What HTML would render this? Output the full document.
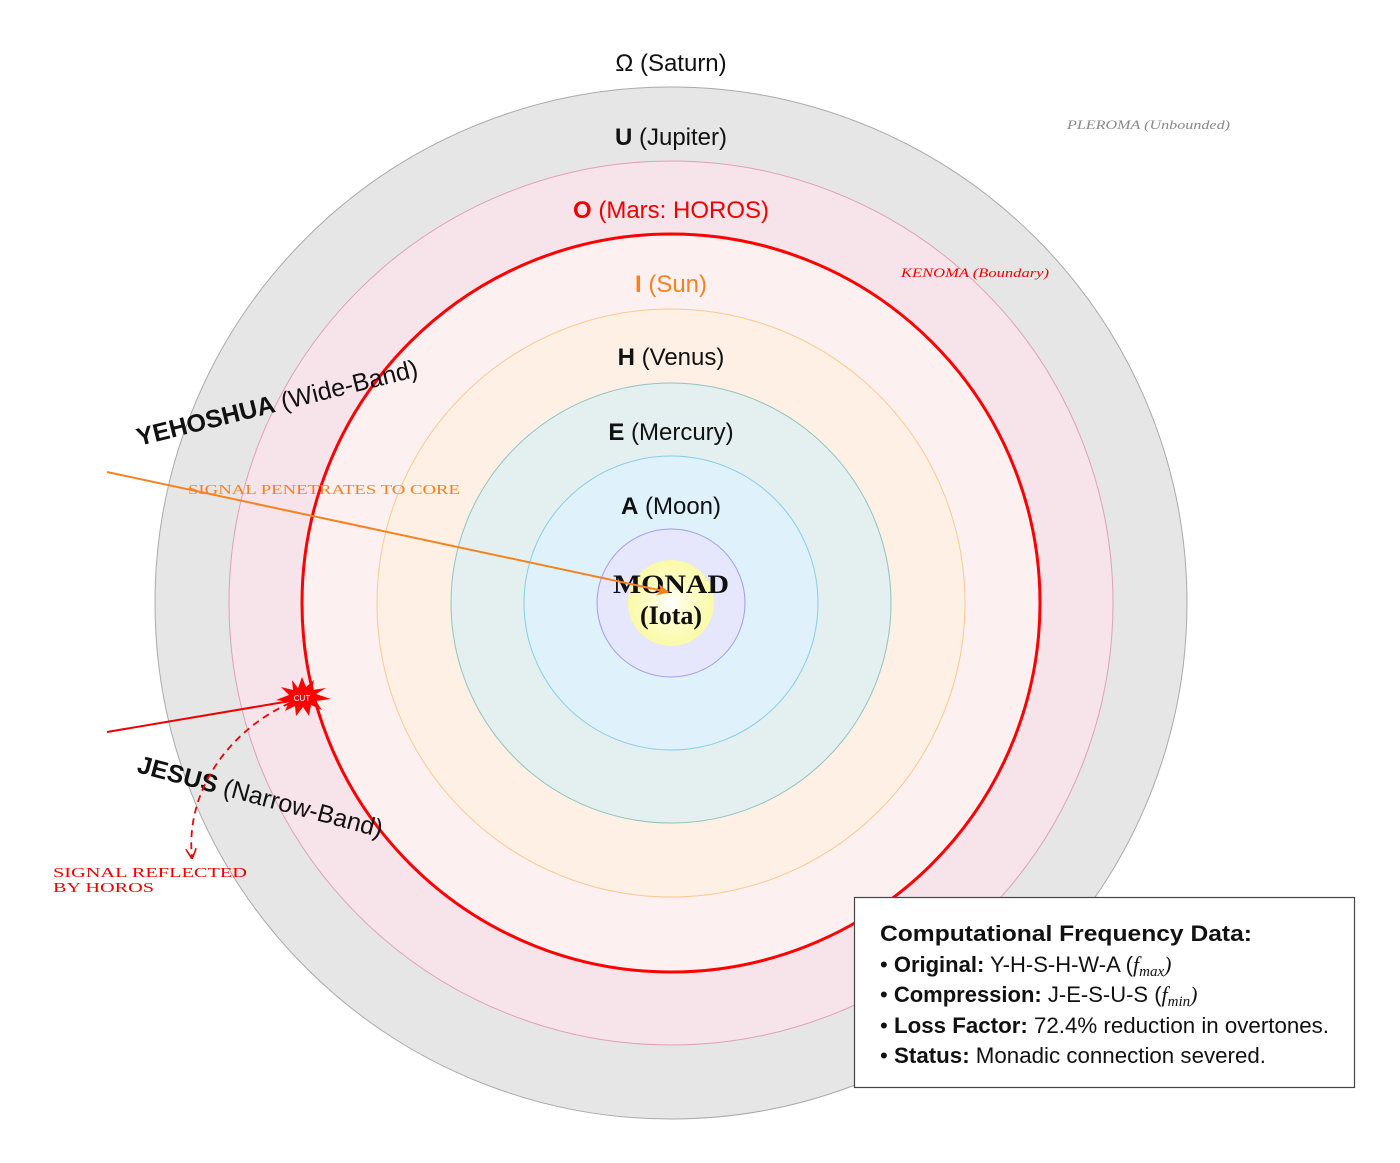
<!DOCTYPE html>
<html><head><meta charset="utf-8"><style>
html,body{margin:0;padding:0;background:#fff;}
svg{display:block;}
</style></head><body>
<svg width="1400" height="1163" viewBox="0 0 1400 1163" xmlns="http://www.w3.org/2000/svg" font-family="Liberation Sans, DejaVu Sans, sans-serif">
<defs>
<radialGradient id="mg" cx="0.5" cy="0.5" r="0.5">
<stop offset="0" stop-color="#ffffff"/><stop offset="0.5" stop-color="#fdfdc8"/><stop offset="1" stop-color="#fafaa8"/>
</radialGradient>
<marker id="ao" viewBox="0 0 10 10" refX="9" refY="5" markerWidth="6" markerHeight="6" orient="auto"><path d="M0,0 L10,5 L0,10 L3,5z" fill="#f58220"/></marker>
<marker id="ar" viewBox="0 0 10 10" refX="9" refY="5" markerWidth="6" markerHeight="6" orient="auto"><path d="M0,0 L10,5 L0,10" fill="none" stroke="#e00" stroke-width="1.5"/></marker>
</defs>
<circle cx="671" cy="603" r="516" fill="#e6e6e6" stroke="#aaa" stroke-width="1"/>
<circle cx="671" cy="603" r="442" fill="#f7e4ea" stroke="#e0a0b4" stroke-width="1"/>
<circle cx="671" cy="603" r="369" fill="#fdf0f1" stroke="#f00" stroke-width="3"/>
<circle cx="671" cy="603" r="294" fill="#fef0e4" stroke="#fcc890" stroke-width="1"/>
<circle cx="671" cy="603" r="220" fill="#e4f0ef" stroke="#90c4c0" stroke-width="1"/>
<circle cx="671" cy="603" r="147" fill="#dff1fa" stroke="#88cce8" stroke-width="1"/>
<circle cx="671" cy="603" r="74" fill="#e6e6fc" stroke="#9e9ef0" stroke-width="1"/>
<circle cx="671" cy="603" r="43" fill="url(#mg)"/>

<g font-size="24" text-anchor="middle" fill="#111">
<text x="671" y="71">Ω (Saturn)</text>
<text x="671" y="145"><tspan font-weight="bold">U</tspan> (Jupiter)</text>
<text x="671" y="218" fill="#e00"><tspan font-weight="bold">O</tspan> (Mars: HOROS)</text>
<text x="671" y="292" fill="#f58220"><tspan font-weight="bold">I</tspan> (Sun)</text>
<text x="671" y="365"><tspan font-weight="bold">H</tspan> (Venus)</text>
<text x="671" y="440"><tspan font-weight="bold">E</tspan> (Mercury)</text>
<text x="671" y="514"><tspan font-weight="bold">A</tspan> (Moon)</text>
</g>
<g font-family="Liberation Serif, serif" font-weight="bold" font-size="26" text-anchor="middle" fill="#111">
<text x="671" y="593" textLength="116" lengthAdjust="spacingAndGlyphs">MONAD</text>
<text x="671" y="624">(Iota)</text>
</g>
<text x="1067" y="129" font-family="Liberation Serif, serif" font-style="italic" font-size="13" fill="#888" textLength="163" lengthAdjust="spacingAndGlyphs">PLEROMA (Unbounded)</text>
<text x="901" y="277" font-family="Liberation Serif, serif" font-style="italic" font-size="13" fill="#e00" textLength="148" lengthAdjust="spacingAndGlyphs">KENOMA (Boundary)</text>

<text transform="translate(139,446) rotate(-14)" font-size="25" fill="#111"><tspan font-weight="bold">YEHOSHUA</tspan> (Wide-Band)</text>
<text transform="translate(136,772) rotate(15)" font-size="25" fill="#111"><tspan font-weight="bold">JESUS</tspan> (Narrow-Band)</text>

<text x="188" y="494" font-family="Liberation Serif, serif" font-size="14" fill="#f58220" textLength="272" lengthAdjust="spacingAndGlyphs">SIGNAL PENETRATES TO CORE</text>
<line x1="107" y1="472" x2="668" y2="592" stroke="#f58220" stroke-width="2" marker-end="url(#ao)"/>

<line x1="107" y1="732" x2="296" y2="700" stroke="#e00" stroke-width="2"/>
<path d="M290,703 C230,730 185,790 192,858" fill="none" stroke="#e00" stroke-width="1.8" stroke-dasharray="7,5" marker-end="url(#ar)"/>
<polygon fill="#f00" points="302,677 306,687 314,680 312,690 326,688 316,694 331,699 316,701 322,710 311,705 309,716 303,707 296,716 295,706 285,711 289,702 276,700 289,695 281,687 293,690 292,680 298,688"/>
<text x="302" y="701" font-size="8" fill="#fff" text-anchor="middle">CUT</text>
<g font-family="Liberation Serif, serif" font-size="14" fill="#e00">
<text x="53" y="877" textLength="194" lengthAdjust="spacingAndGlyphs">SIGNAL REFLECTED</text>
<text x="53" y="892" textLength="101" lengthAdjust="spacingAndGlyphs">BY HOROS</text>
</g>

<rect x="854.5" y="897.5" width="500" height="190" fill="#fff" stroke="#444" stroke-width="1.2"/>
<g font-size="22" fill="#111">
<text x="880" y="941" font-weight="bold" textLength="372" lengthAdjust="spacingAndGlyphs">Computational Frequency Data:</text>
<text x="880" y="972">• <tspan font-weight="bold">Original:</tspan> Y-H-S-H-W-A (<tspan font-family="Liberation Serif, serif" font-style="italic">f<tspan font-size="15" dy="4">max</tspan><tspan dy="-4">)</tspan></tspan></text>
<text x="880" y="1002">• <tspan font-weight="bold">Compression:</tspan> J-E-S-U-S (<tspan font-family="Liberation Serif, serif" font-style="italic">f<tspan font-size="15" dy="4">min</tspan><tspan dy="-4">)</tspan></tspan></text>
<text x="880" y="1033" textLength="449" lengthAdjust="spacingAndGlyphs">• <tspan font-weight="bold">Loss Factor:</tspan> 72.4% reduction in overtones.</text>
<text x="880" y="1063" textLength="386" lengthAdjust="spacingAndGlyphs">• <tspan font-weight="bold">Status:</tspan> Monadic connection severed.</text>
</g>
</svg>
</body></html>
